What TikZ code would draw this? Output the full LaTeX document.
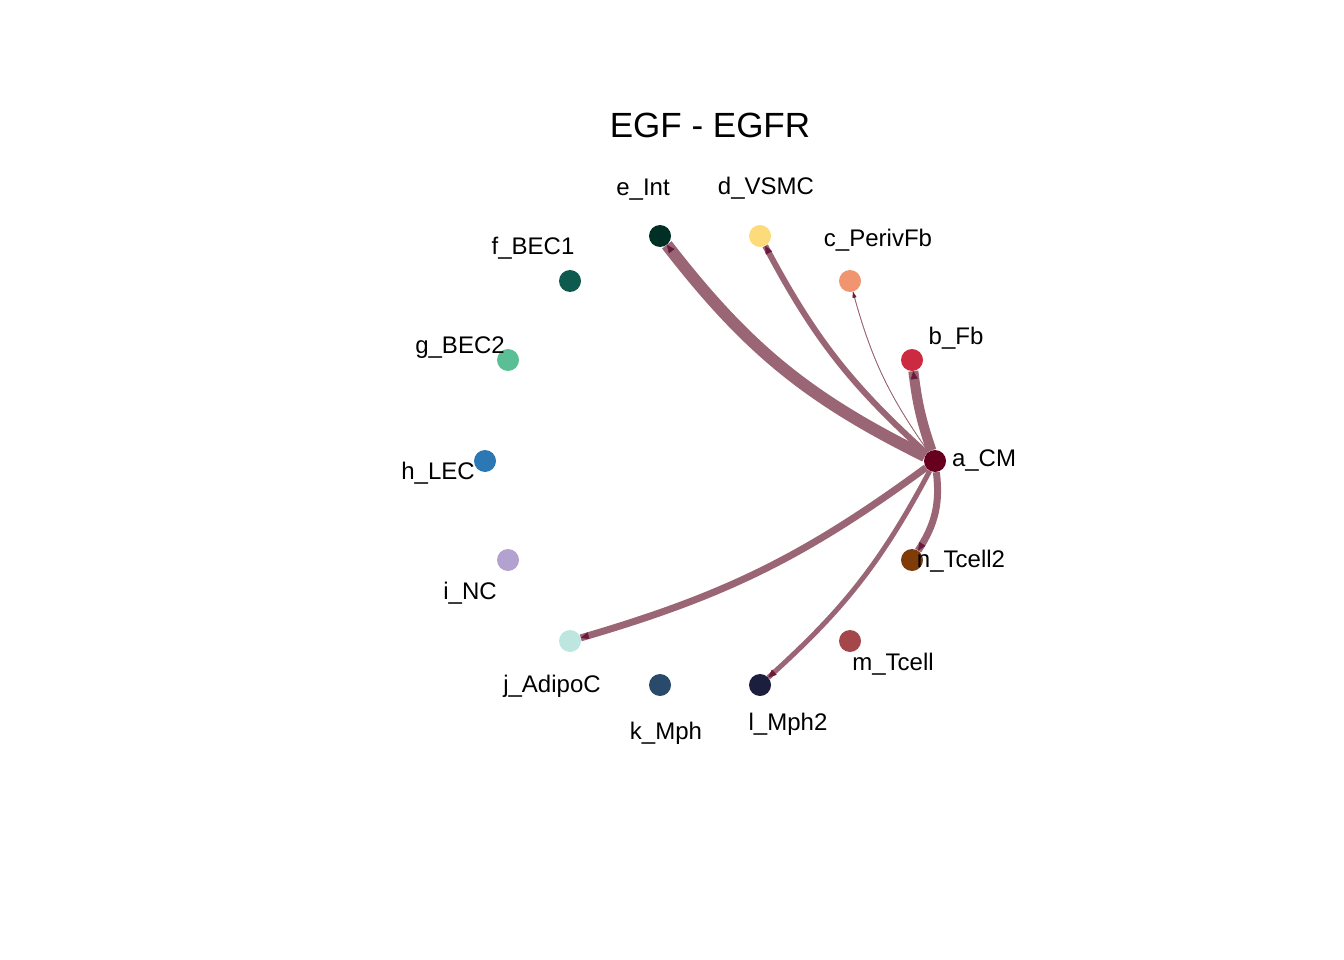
\documentclass[tikz,border=0pt]{standalone}
\usepackage{fontspec}
\setmainfont{Liberation Sans}
\usetikzlibrary{arrows.meta,backgrounds}
\definecolor{edgec}{HTML}{9A6676}
\definecolor{arrc}{HTML}{6A1B3B}
\definecolor{cA}{HTML}{67001F}
\definecolor{cB}{HTML}{CB2A40}
\definecolor{cC}{HTML}{F0956F}
\definecolor{cD}{HTML}{FDDA7A}
\definecolor{cE}{HTML}{003025}
\definecolor{cF}{HTML}{0E5A4E}
\definecolor{cG}{HTML}{5BBF96}
\definecolor{cH}{HTML}{2C78B5}
\definecolor{cI}{HTML}{B3A2D0}
\definecolor{cJ}{HTML}{BDE6E0}
\definecolor{cK}{HTML}{2A4A6C}
\definecolor{cL}{HTML}{1B1E3C}
\definecolor{cM}{HTML}{A4474A}
\definecolor{cN}{HTML}{7F3B08}
\begin{document}
\begin{tikzpicture}[x=1pt,y=-1pt,
  dot/.style={circle,minimum size=22pt,inner sep=0pt,draw=none},
  lab/.style={inner sep=0pt,font=\fontsize{24}{28}\selectfont},
  edge/.style={draw=edgec},
  tip/.style={draw=edgec,line width=0.4pt,-{Triangle[length=8pt,width=7pt,color=arrc]}},
  tipsmall/.style={draw=edgec,line width=0.4pt,-{Triangle[length=6pt,width=4pt,color=arrc]}}]
\useasboundingbox (0,0) rectangle (1344,960);
\node[font=\fontsize{35}{40}\selectfont,inner sep=0pt] (title) at (710,125) {EGF - EGFR};
% nodes
\node[dot,fill=cA] (a) at (935,461) {};
\node[dot,fill=cB] (b) at (912,360) {};
\node[dot,fill=cC] (c) at (850,281) {};
\node[dot,fill=cD] (d) at (760,236) {};
\node[dot,fill=cE] (e) at (660,236) {};
\node[dot,fill=cF] (f) at (570,281) {};
\node[dot,fill=cG] (g) at (508,360) {};
\node[dot,fill=cH] (h) at (485,461) {};
\node[dot,fill=cI] (i) at (508,560) {};
\node[dot,fill=cJ] (j) at (570,641) {};
\node[dot,fill=cK] (k) at (660,685) {};
\node[dot,fill=cL] (l) at (760,685) {};
\node[dot,fill=cM] (m) at (850,641) {};
\node[dot,fill=cN] (n) at (912,560) {};
% labels
\node[lab] (la) at (984,461) {a\_CM};
\node[lab] (lb) at (956,338) {b\_Fb};
\node[lab] (lc) at (878,240) {c\_PerivFb};
\node[lab] (ld) at (766,188) {d\_VSMC};
\node[lab] (le) at (643,190) {e\_Int};
\node[lab] (lf) at (533,248) {f\_BEC1};
\node[lab] (lg) at (460,348) {g\_BEC2};
\node[lab] (lh) at (438,473) {h\_LEC};
\node[lab] (li) at (470,593) {i\_NC};
\node[lab] (lj) at (552,686) {j\_AdipoC};
\node[lab] (lk) at (666,733) {k\_Mph};
\node[lab] (ll) at (788,724) {l\_Mph2};
\node[lab] (lm) at (893,664) {m\_Tcell};
\node[lab] (ln) at (961,561) {n\_Tcell2};
% edges
\begin{scope}[on background layer]
\draw[edge,line width=12pt] (a) to[bend left=13] (e);
\draw[tip] (a) to[bend left=13] (e);
\draw[edge,line width=6pt] (a) to[bend left=10] (d);
\draw[tip] (a) to[bend left=10] (d);
\draw[edge,line width=0.8pt] (a) to[bend left=10] (c);
\draw[tipsmall] (a) to[bend left=10] (c);
\draw[edge,line width=10pt] (a) to[bend left=6] (b);
\draw[tip] (a) to[bend left=6] (b);
\draw[edge,line width=7pt] (a) to[bend left=20] (n);
\draw[tip] (a) to[bend left=20] (n);
\draw[edge,line width=5pt] (a) to[bend left=10] (l);
\draw[tip] (a) to[bend left=10] (l);
\draw[edge,line width=7pt] (a) to[bend left=10] (j);
\draw[tip] (a) to[bend left=10] (j);
\end{scope}
\end{tikzpicture}
\end{document}
